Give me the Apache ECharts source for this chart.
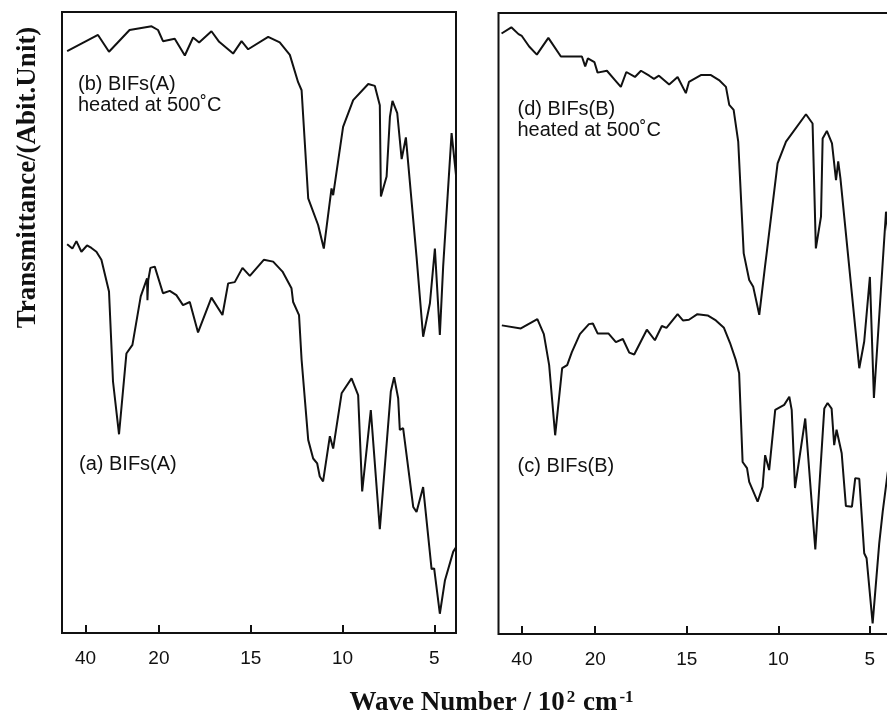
<!DOCTYPE html>
<html>
<head>
<meta charset="utf-8">
<title>IR spectra of BIFs</title>
<script src="https://cdn.jsdelivr.net/npm/echarts@6/dist/echarts.min.js"></script>
<style>
  html, body { margin: 0; padding: 0; background: #fff; }
  #chart { width: 887px; height: 716px; }
</style>
</head>
<body>
<div id="chart"></div>
<script>
// Wave numbers in units of 10^2 cm^-1, transmittance in arbitrary units (0-100 per panel).
const waveA = [45.0, 43.57, 42.48, 41.12, 39.59, 38.39, 37.03, 35.67, 33.60, 32.51, 30.87, 28.86, 27.22, 24.96, 23.24, 23.13, 22.92, 22.32, 21.14, 19.78, 19.41, 19.05, 18.69, 18.32, 17.87, 17.14, 16.54, 16.23, 15.87, 15.45, 15.05, 14.29, 13.78, 13.27, 12.78, 12.69, 12.37, 12.23, 11.87, 11.60, 11.38, 11.24, 11.06, 10.69, 10.51, 10.05, 9.51, 9.15, 8.93, 8.46, 7.97, 7.37, 7.19, 6.97, 6.88, 6.70, 6.15, 5.97, 5.61, 5.15, 5.01, 4.70, 4.42, 3.97, 3.82];
const transA = [62.6, 61.9, 63.1, 61.4, 62.4, 62.0, 61.4, 60.1, 55.0, 40.5, 32.0, 45.0, 46.4, 54.2, 57.1, 53.6, 56.8, 58.8, 59.0, 54.7, 55.1, 54.4, 52.8, 53.3, 48.4, 54.0, 51.2, 56.3, 56.5, 58.8, 57.5, 60.1, 59.8, 58.2, 55.5, 53.3, 51.2, 44.0, 31.1, 28.1, 27.3, 25.2, 24.4, 31.7, 29.7, 38.6, 41.0, 38.3, 22.8, 35.9, 16.7, 38.9, 41.2, 37.8, 32.7, 33.0, 20.3, 19.5, 23.5, 10.3, 10.4, 3.1, 8.5, 13.1, 13.8];

const waveB = [45.0, 36.6, 33.6, 28.0, 22.0, 20.25, 19.78, 19.14, 18.59, 18.14, 17.81, 17.14, 16.72, 15.96, 15.50, 15.14, 14.05, 13.42, 12.87, 12.42, 12.23, 11.87, 11.33, 11.02, 10.60, 10.51, 9.97, 9.42, 8.60, 8.24, 7.97, 7.91, 7.60, 7.42, 7.28, 7.02, 6.78, 6.55, 5.97, 5.61, 5.24, 4.97, 4.70, 4.52, 4.06, 3.79];
const transB = [93.7, 96.3, 93.6, 97.1, 97.7, 97.1, 95.3, 95.7, 93.0, 95.9, 95.1, 96.9, 95.2, 93.3, 95.3, 94.0, 96.0, 95.1, 93.1, 88.7, 87.4, 70.0, 65.7, 61.9, 71.6, 70.5, 81.5, 85.8, 88.4, 88.1, 85.0, 70.3, 73.5, 83.1, 85.7, 83.7, 76.3, 79.8, 60.6, 47.7, 53.1, 61.9, 48.0, 59.0, 80.5, 72.9];

const waveC = [45.49, 40.30, 35.79, 34.02, 32.57, 30.93, 29.02, 27.65, 26.37, 24.18, 21.72, 20.63, 19.87, 19.28, 18.87, 18.49, 18.14, 17.87, 17.18, 16.74, 16.36, 16.11, 15.50, 15.21, 14.88, 14.42, 13.86, 13.41, 12.97, 12.64, 12.32, 12.14, 11.95, 11.71, 11.59, 11.13, 10.86, 10.72, 10.50, 10.17, 9.68, 9.40, 9.27, 9.09, 8.53, 7.98, 7.49, 7.31, 7.09, 6.95, 6.82, 6.54, 6.31, 5.98, 5.80, 5.58, 5.31, 5.18, 4.85, 4.49, 4.30, 4.03, 3.82];
const transC = [49.7, 49.2, 50.7, 48.3, 43.3, 32.0, 42.8, 43.3, 45.4, 48.3, 49.9, 50.0, 48.4, 48.4, 47.0, 47.5, 45.3, 45.0, 49.0, 47.3, 49.6, 49.3, 51.5, 50.5, 50.6, 51.5, 51.3, 50.5, 49.3, 46.9, 44.1, 42.0, 27.7, 26.7, 24.5, 21.3, 23.7, 28.8, 26.4, 36.1, 36.9, 38.2, 36.1, 23.5, 34.7, 13.6, 36.3, 37.2, 36.3, 30.4, 32.9, 29.1, 20.6, 20.5, 25.1, 25.0, 13.0, 12.2, 1.7, 14.6, 19.7, 25.9, 29.6];

const waveD = [45.57, 42.90, 40.93, 40.03, 38.03, 35.93, 32.79, 29.37, 23.63, 22.73, 21.99, 20.22, 19.87, 19.36, 18.92, 18.60, 18.30, 17.83, 17.50, 17.05, 16.79, 16.52, 15.96, 15.50, 15.05, 14.88, 14.23, 13.68, 13.24, 12.86, 12.68, 12.44, 12.19, 11.89, 11.59, 11.37, 11.04, 10.73, 10.65, 10.04, 9.58, 8.49, 8.13, 7.95, 7.67, 7.58, 7.35, 7.07, 6.85, 6.73, 6.61, 5.58, 5.31, 5.00, 4.78, 4.12, 3.96];
const transD = [96.7, 97.7, 96.6, 96.3, 94.6, 93.3, 96.0, 93.0, 93.0, 91.4, 92.7, 92.1, 90.4, 90.7, 89.2, 88.1, 90.5, 89.7, 90.7, 89.9, 89.4, 89.9, 88.5, 89.7, 87.1, 88.9, 90.0, 90.0, 89.2, 88.1, 85.2, 84.4, 79.3, 61.3, 57.0, 55.9, 51.4, 59.1, 61.0, 75.8, 79.3, 83.7, 82.2, 62.1, 67.2, 79.8, 81.0, 79.0, 73.1, 76.1, 73.4, 42.8, 47.1, 57.5, 38.0, 68.0, 63.4];

const tickLabels = [40, 20, 15, 10, 5];
const waveRange = [3.82, 46.4];

// The spectrometer chart is compressed 5x above 2000 cm^-1.
const BREAK = 20, HIGH_RATIO = 0.2;
function toAxis(w) { return w <= BREAK ? w : BREAK + (w - BREAK) * HIGH_RATIO; }
function fromAxis(p) { return p <= BREAK ? p : BREAK + (p - BREAK) / HIGH_RATIO; }

const INK = '#111';
const tickPos = tickLabels.map(toAxis);

function pairs(w, t) { return w.map((v, i) => [toAxis(v), t[i]]); }

function xAxisFor(gridIndex) {
  return {
    type: 'value', gridIndex: gridIndex, inverse: true,
    min: toAxis(waveRange[0]), max: toAxis(waveRange[1]),
    splitLine: { show: false },
    axisLine: { show: false },
    axisTick: { show: true, inside: true, length: 8, customValues: tickPos,
                lineStyle: { color: INK, width: 2 } },
    axisLabel: { customValues: tickPos, margin: 26, verticalAlign: 'middle',
                 color: INK, fontSize: 19, fontFamily: 'Liberation Sans, Arial, sans-serif',
                 formatter: v => String(Math.round(fromAxis(v))) }
  };
}
function yAxisFor(gridIndex) {
  return { type: 'value', gridIndex: gridIndex, min: 0, max: 100, show: false };
}
function spectrum(data, idx) {
  return { type: 'line', xAxisIndex: idx, yAxisIndex: idx, data: data,
           showSymbol: false, symbol: 'none', clip: true, silent: true,
           lineStyle: { color: INK, width: 2 } };
}
function label(text, x, y) {
  return { type: 'text', x: x, y: y,
           style: { text: text, fill: INK, fontSize: 20,
                    fontFamily: 'Liberation Sans, Arial, sans-serif',
                    textAlign: 'left', textVerticalAlign: 'middle' } };
}

const chart = echarts.init(document.getElementById('chart'), null, { renderer: 'canvas' });
chart.setOption({
  animation: false,
  backgroundColor: '#fff',
  grid: [
    { left: 62, top: 12, width: 394, height: 621, outerBoundsMode: 'none',
      show: true, borderColor: INK, borderWidth: 2 },
    // the right-hand panel runs past the page edge
    { left: 498.5, top: 13, width: 393, height: 621, outerBoundsMode: 'none',
      show: true, borderColor: INK, borderWidth: 2 }
  ],
  xAxis: [xAxisFor(0), xAxisFor(1)],
  yAxis: [yAxisFor(0), yAxisFor(1)],
  series: [
    spectrum(pairs(waveB, transB), 0),
    spectrum(pairs(waveA, transA), 0),
    spectrum(pairs(waveD, transD), 1),
    spectrum(pairs(waveC, transC), 1)
  ],
  graphic: [
    label('(b) BIFs(A)', 78, 84.5),
    label('heated at 500\u02DAC', 78, 105.5),
    label('(a) BIFs(A)', 79, 464),
    label('(d) BIFs(B)', 517.5, 109),
    label('heated at 500\u02DAC', 517.5, 130),
    label('(c) BIFs(B)', 517.5, 466.5),
    {
      type: 'text', x: 28.5, y: 177.5, rotation: Math.PI / 2,
      style: { text: 'Transmittance/(Abit.Unit)', fill: INK,
               font: 'bold 27px "Liberation Serif", "Times New Roman", serif',
               textAlign: 'center', textVerticalAlign: 'middle' }
    },
    {
      type: 'text', x: 492, y: 703,
      style: {
        text: 'Wave Number / 10{sup|2} cm{sup|-1}', fill: INK,
        font: 'bold 27px "Liberation Serif", "Times New Roman", serif',
        textAlign: 'center', textVerticalAlign: 'middle',
        rich: {
          sup: { font: 'bold 17px "Liberation Serif", "Times New Roman", serif',
                 fill: INK, verticalAlign: 'top', padding: [0, 1, 10, 2] }
        }
      }
    }
  ]
});
</script>
</body>
</html>
